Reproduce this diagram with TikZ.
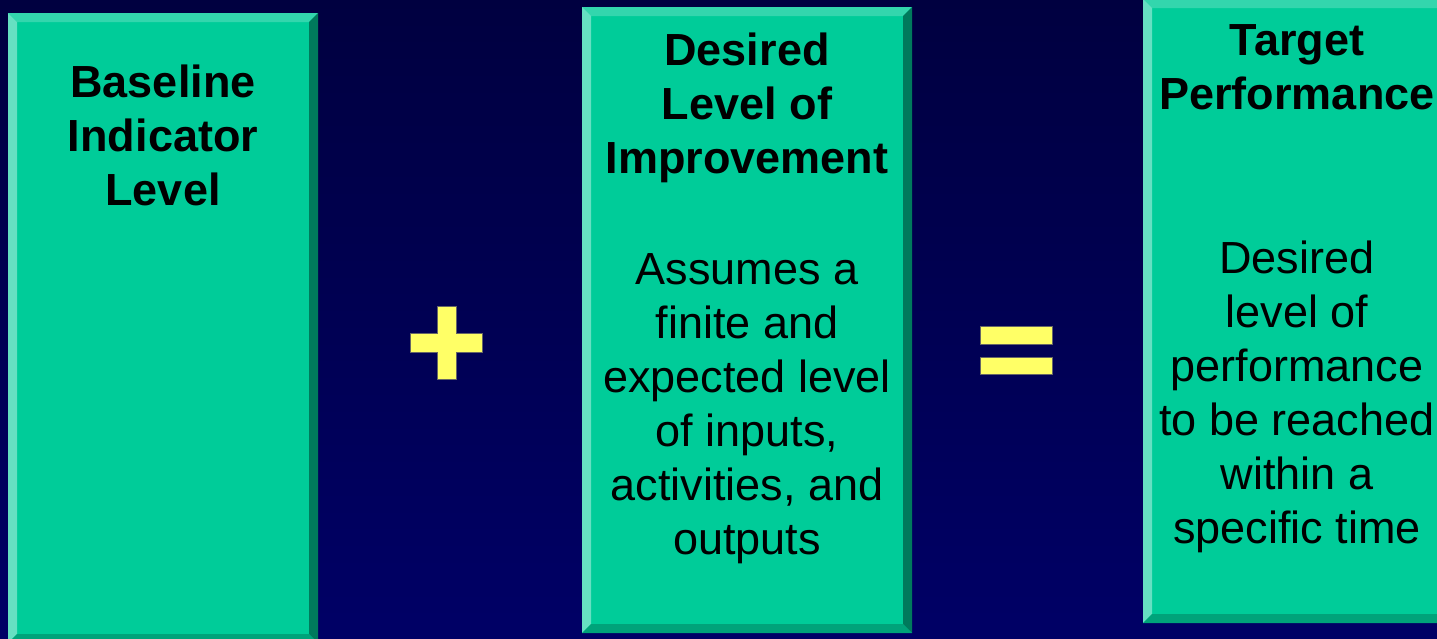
\documentclass[tikz,border=0pt]{standalone}
\usepackage{fontspec}
\setmainfont{Liberation Sans}
\definecolor{bgtop}{HTML}{000040}
\definecolor{bgbot}{HTML}{000066}
\definecolor{face}{HTML}{00CC99}
\definecolor{btop}{HTML}{33D6AD}
\definecolor{bleft}{HTML}{66E0C2}
\definecolor{bright}{HTML}{007A5C}
\definecolor{bbot}{HTML}{00A37A}
\definecolor{sym}{HTML}{FFFF66}
\newcommand\bevbox[4]{%
  \fill[face] (#1,#2) rectangle (#3,#4);
  \fill[btop] (#1,#2) -- (#3,#2) -- ({#3-9},{#2+9}) -- ({#1+9},{#2+9}) -- cycle;
  \fill[bleft] (#1,#2) -- ({#1+9},{#2+9}) -- ({#1+9},{#4-9}) -- (#1,#4) -- cycle;
  \fill[bright] (#3,#2) -- (#3,#4) -- ({#3-9},{#4-9}) -- ({#3-9},{#2+9}) -- cycle;
  \fill[bbot] (#1,#4) -- ({#1+9},{#4-9}) -- ({#3-9},{#4-9}) -- (#3,#4) -- cycle;
}
\tikzset{
  boxtitle/.style={font=\bfseries\fontsize{45}{54}\selectfont, align=center, inner sep=0pt, text=black},
  boxbody/.style={font=\fontsize{45}{54}\selectfont, align=center, inner sep=0pt, text=black},
  symbol/.style={fill=sym, draw=black!60, line width=0.8pt}
}
\begin{document}
\begin{tikzpicture}[x=1pt,y=-1pt]
\useasboundingbox (0,0) rectangle (1437,638);
\shade[top color=bgtop, bottom color=bgbot] (0,0) rectangle (1437,638);
% boxes
\bevbox{8}{13}{318}{643}
\bevbox{582}{7}{912}{633}
\bevbox{1143}{-1}{1451}{623}
% texts
\node[boxtitle] (t1) at (163,135.5) {Baseline\\Indicator\\Level};
\node[boxtitle] (t2) at (747,108) {Desired\\Level of\\Improvement};
\node[boxbody] (b2) at (747,409) {Assumes a\\finite and\\expected level\\of inputs,\\activities, and\\outputs};
\node[boxtitle] (t3) at (1297,67) {Target\\Performance};
\node[boxbody] (b3) at (1297,397) {Desired\\level of\\performance\\to be reached\\within a\\specific time};
% plus
\draw[symbol] (437,306) -- (456,306) -- (456,333) -- (482,333) -- (482,352) -- (456,352) -- (456,379) -- (437,379) -- (437,352) -- (410,352) -- (410,333) -- (437,333) -- cycle;
% equals
\draw[symbol] (980,326) rectangle (1052,344);
\draw[symbol] (980,357) rectangle (1052,374);
\end{tikzpicture}
\end{document}
